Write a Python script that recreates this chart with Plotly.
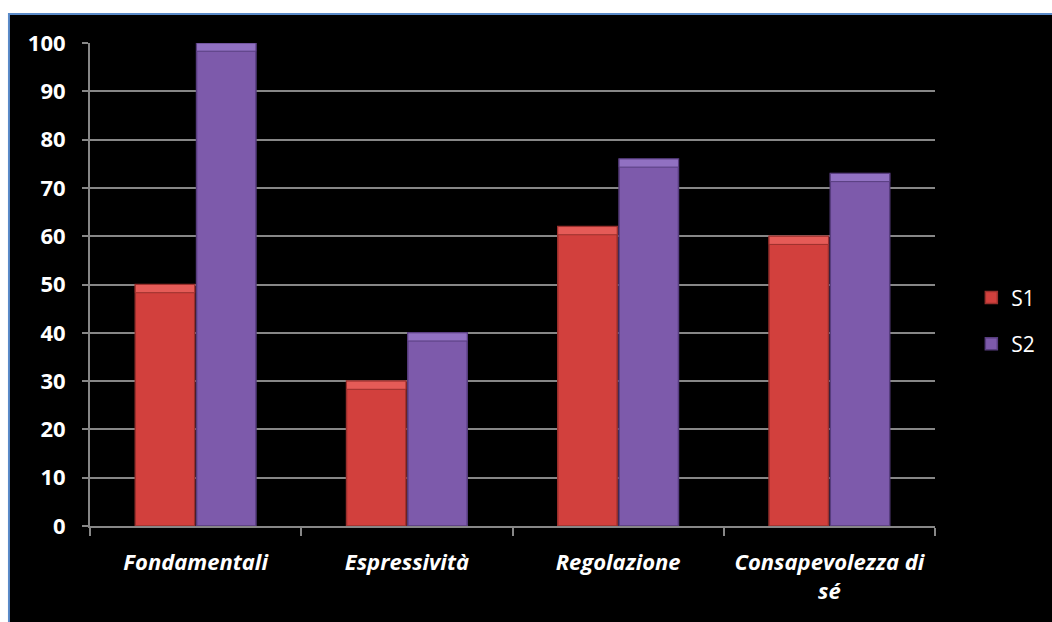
import plotly.graph_objects as go

categories = ["Fondamentali", "Espressività", "Regolazione", "Consapevolezza di<br>sé"]
s1_values = [50, 30, 62, 60]
s2_values = [100, 40, 76, 73]
y_ticks = [0, 10, 20, 30, 40, 50, 60, 70, 80, 90, 100]

FONT = "'Open Sans', sans-serif"
RED = "#D2403D"
RED_EDGE = "#9A302D"
RED_TOP = "#E55B57"
PURPLE = "#7D5AAB"
PURPLE_EDGE = "#573D7E"
PURPLE_TOP = "#9171C2"
BEVEL = 1.7  # height of the light top band, in axis units

fig = go.Figure()

fig.add_trace(go.Bar(
    name="S1", x=categories, y=s1_values, offsetgroup="s1", legendgroup="s1",
    marker=dict(color=RED, line=dict(color=RED_EDGE, width=1.5)),
))
fig.add_trace(go.Bar(
    name="S2", x=categories, y=s2_values, offsetgroup="s2", legendgroup="s2",
    marker=dict(color=PURPLE, line=dict(color=PURPLE_EDGE, width=1.5)),
))
# light band along the top of each bar
fig.add_trace(go.Bar(
    x=categories, y=[BEVEL] * len(s1_values), base=[v - BEVEL for v in s1_values],
    offsetgroup="s1", showlegend=False, hoverinfo="skip",
    marker=dict(color=RED_TOP, line=dict(color=RED_EDGE, width=1)),
))
fig.add_trace(go.Bar(
    x=categories, y=[BEVEL] * len(s2_values), base=[v - BEVEL for v in s2_values],
    offsetgroup="s2", showlegend=False, hoverinfo="skip",
    marker=dict(color=PURPLE_TOP, line=dict(color=PURPLE_EDGE, width=1)),
))

# black panel with thin blue frame behind everything
L, R, T, B = 90, 107, 43, 96
pw, ph = 1052 - L - R, 622 - T - B
fig.add_shape(
    type="rect", xref="paper", yref="paper", layer="below",
    x0=(8 - L) / pw, x1=(1070 - L) / pw,
    y0=(622 - B - 640) / ph, y1=(622 - B - 14) / ph,
    fillcolor="black", line=dict(color="#5B8BC9", width=2),
)

fig.update_layout(
    width=1052, height=622,
    margin=dict(l=L, r=R, t=T, b=B),
    paper_bgcolor="white",
    plot_bgcolor="#404040",
    barmode="group",
    bargap=0.42,
    bargroupgap=0.03,
    showlegend=True,
    legend=dict(
        x=1.043, y=0.425, xanchor="left", yanchor="middle",
        font=dict(family=FONT, size=21, color="white"),
        bgcolor="rgba(0,0,0,0)", tracegroupgap=16, itemwidth=30,
    ),
    font=dict(family=FONT, color="white"),
)

fig.update_yaxes(
    range=[0, 100], tickvals=y_ticks,
    showgrid=True, gridcolor="#878787", gridwidth=2,
    showline=True, linecolor="#878787", linewidth=2,
    ticks="outside", ticklen=6, tickcolor="#878787", tickwidth=2,
    ticklabelstandoff=12,
    tickfont=dict(family=FONT, size=22, color="white", weight="bold"),
    zeroline=False,
)
fig.update_xaxes(
    showline=True, linecolor="#878787", linewidth=2,
    ticks="outside", ticklen=8, tickcolor="#878787", tickwidth=2,
    tickson="boundaries", showgrid=False,
    ticklabelstandoff=16,
    tickfont=dict(family=FONT, size=22, color="white", weight="bold", style="italic"),
)

fig.write_html("out.html")
